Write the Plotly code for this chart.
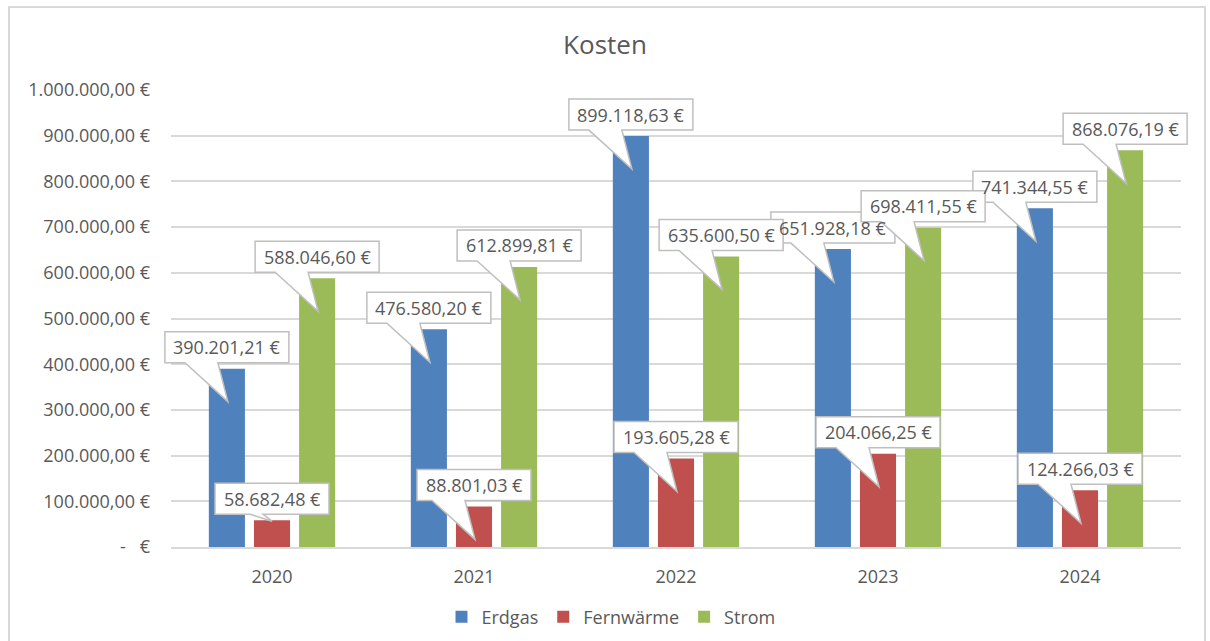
import plotly.graph_objects as go

# ---------------- data ----------------
years = ["2020", "2021", "2022", "2023", "2024"]
erdgas = [390201.21, 476580.20, 899118.63, 651928.18, 741344.55]
fernwaerme = [58682.48, 88801.03, 193605.28, 204066.25, 124266.03]
strom = [588046.60, 612899.81, 635600.50, 698411.55, 868076.19]
series_names = ["Erdgas", "Fernwärme", "Strom"]
series_values = [erdgas, fernwaerme, strom]
y_tickvals = [0, 100000, 200000, 300000, 400000, 500000, 600000, 700000, 800000, 900000, 1000000]
y_ticktext = ["-   €", "100.000,00 €", "200.000,00 €", "300.000,00 €", "400.000,00 €",
              "500.000,00 €", "600.000,00 €", "700.000,00 €", "800.000,00 €",
              "900.000,00 €", "1.000.000,00 €"]

# ---------------- style ----------------
colors = ["#4F81BD", "#C0504D", "#9BBB59"]
FONT = "Open Sans"
TXT = "#595959"
GRID = "#D9D9D9"
BARGAP = 0.33
GROUPGAP = 0.2
XRANGE = [-0.5, 4.5]
# callout tip depth (px below bar top); default 33
tip_depth = {("Fernwärme", 0): 1}


def fmt(v):
    s = f"{v:,.2f}"
    s = s.replace(",", "X").replace(".", ",").replace("X", ".")
    return s + " €"


xpos = list(range(len(years)))
nser = len(series_names)
slot = (1 - BARGAP) / nser

fig = go.Figure()
for name, vals, col in zip(series_names, series_values, colors):
    fig.add_trace(go.Bar(x=xpos, y=vals, name=name, marker=dict(color=col, line=dict(width=0))))

shapes = []
annotations = []
for k, (name, vals) in enumerate(zip(series_names, series_values)):
    for i, v in enumerate(vals):
        xc = i + (k - (nser - 1) / 2) * slot
        xdom = (xc - XRANGE[0]) / (XRANGE[1] - XRANGE[0])
        label = fmt(v)
        hw = 62 if len(label) >= 12 else 57
        b = 6
        h = 31
        d = tip_depth.get((name, i), 33)
        bl = -42 if d > 10 else -22
        br = -9
        tx = 1 if d > 10 else 0
        path = (f"M {-hw},{b} L {bl},{b} L {tx},{-d} L {br},{b} L {hw},{b} "
                f"L {hw},{b + h} L {-hw},{b + h} Z")
        shapes.append(dict(type="path", path=path, xref="x domain", yref="y",
                           xsizemode="pixel", ysizemode="pixel",
                           xanchor=xdom, yanchor=v, layer="above",
                           line=dict(color="#BFBFBF", width=1.5),
                           fillcolor="white"))
        annotations.append(dict(x=xc, y=v, xref="x", yref="y", text=label,
                                showarrow=False, yshift=b + h / 2,
                                font=dict(family=FONT, size=18, color=TXT)))

# outer chart border
shapes.append(dict(type="rect", xref="paper", yref="paper",
                   x0=(9 - 171) / 1010, x1=(1205 - 171) / 1010,
                   y0=-0.25, y1=(547 - 7) / 457, layer="below",
                   line=dict(color="#D9D9D9", width=2), fillcolor="rgba(0,0,0,0)"))

fig.update_layout(
    width=1210, height=641,
    margin=dict(l=171, r=29, t=90, b=94, autoexpand=False),
    paper_bgcolor="white", plot_bgcolor="white",
    barmode="group", bargap=BARGAP, bargroupgap=GROUPGAP,
    title=dict(text="Kosten", x=0.5, xref="container", y=1 - 45 / 641, yanchor="middle",
               xanchor="center", font=dict(family=FONT, size=26, color=TXT)),
    font=dict(family=FONT, size=18, color=TXT),
    xaxis=dict(range=XRANGE, tickvals=xpos, ticktext=years, showgrid=False,
               zeroline=False, showline=True, linecolor=GRID, linewidth=1.5,
               ticks="", ticklabelstandoff=13, automargin=False,
               tickfont=dict(family=FONT, size=18, color=TXT)),
    yaxis=dict(range=[0, 1000000], tickvals=y_tickvals, ticktext=y_ticktext,
               showgrid=True, gridcolor=GRID, gridwidth=1.5, zeroline=False,
               showline=False, ticks="", ticklabelstandoff=20, automargin=False,
               tickfont=dict(family=FONT, size=18, color=TXT)),
    legend=dict(orientation="h", x=(611 - 171) / 1010, xanchor="center",
                y=(547 - 617) / 457, yanchor="middle",
                font=dict(family=FONT, size=18, color=TXT), traceorder="normal"),
    shapes=shapes,
    annotations=annotations,
)

fig.write_html("out.html", config={"displayModeBar": False},
               post_script="document.body.style.margin='0';document.body.style.overflow='hidden';")
